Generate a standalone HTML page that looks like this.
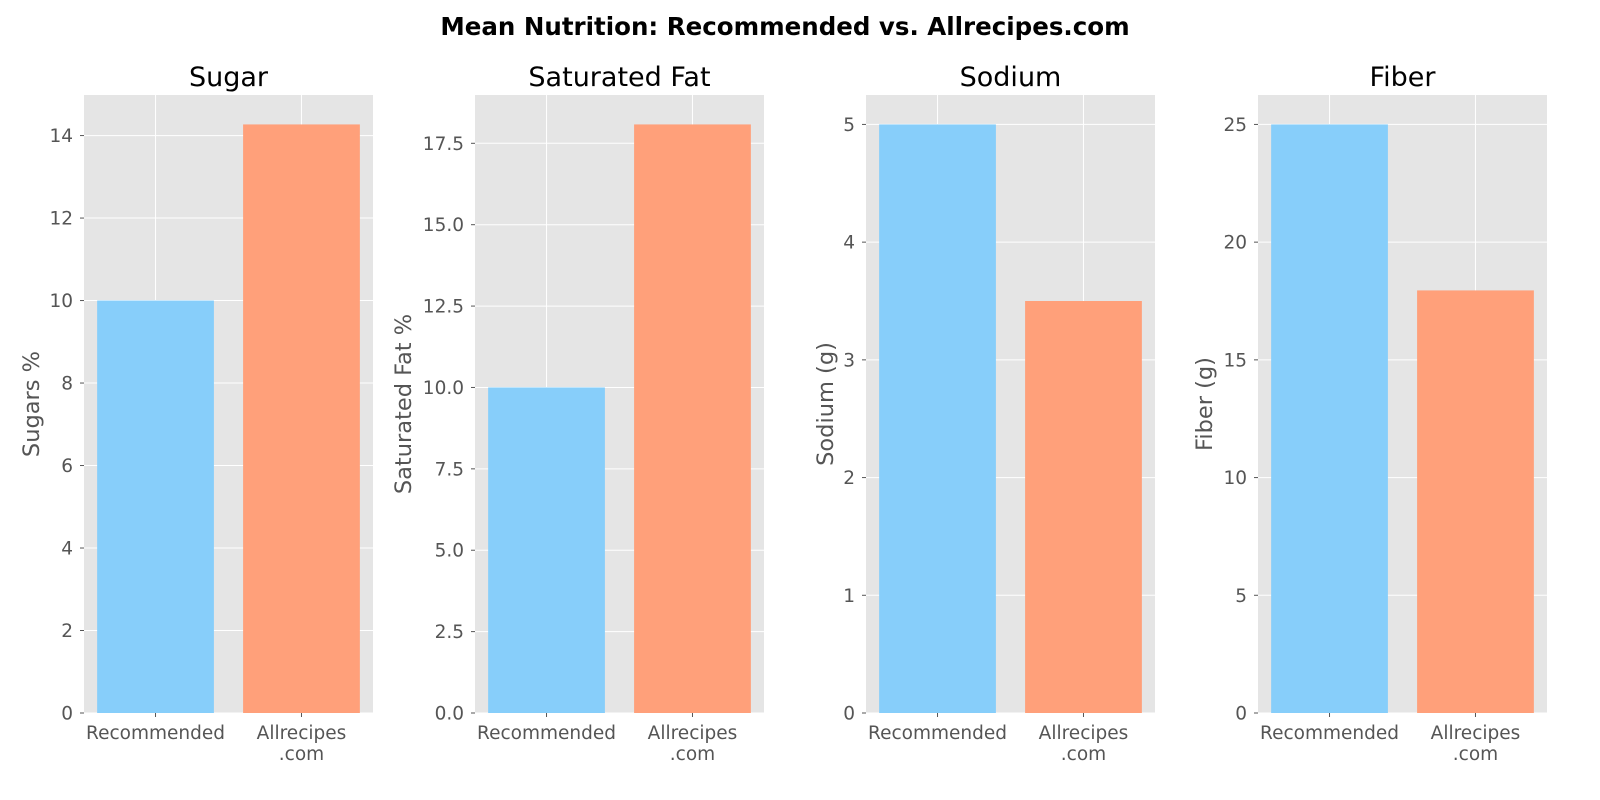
<!DOCTYPE html>
<html><head><meta charset="utf-8"><style>
body{margin:0;background:#fff;}
svg{display:block;font-family:"DejaVu Sans","Liberation Sans",sans-serif;}
</style></head><body>
<svg id="c" width="1600" height="800">
<text x="785" y="35" text-anchor="middle" font-size="24.5" font-weight="bold" fill="#000">Mean Nutrition: Recommended vs. Allrecipes.com</text>
</svg>
<script>
const categories = ["Recommended", "Allrecipes\n.com"];
const panelTitles = ["Sugar", "Saturated Fat", "Sodium", "Fiber"];
const yLabels = ["Sugars %", "Saturated Fat %", "Sodium (g)", "Fiber (g)"];
const recommendedValues = [10, 10, 5, 25];
const allrecipesValues = [14.27, 18.08, 3.5, 17.95];
const tickSets = [
  [0,2,4,6,8,10,12,14],
  [0,2.5,5,7.5,10,12.5,15,17.5],
  [0,1,2,3,4,5],
  [0,5,10,15,20,25]
];
const tickFmt = [0,1,0,0];
const colors = ["#87cefa", "#ffa07a"];
const NS = "http://www.w3.org/2000/svg";
const svgEl = document.getElementById('c');
function mk(tag, attrs, parent){ const e=document.createElementNS(NS,tag); for(const k in attrs) e.setAttribute(k,attrs[k]); (parent||svgEl).appendChild(e); return e; }
const lefts = [84, 475, 866, 1258];
const labelOffsets = [45, 64, 33, 46];
const W = 289, yTop = 95, yBottom = 713;
panelTitles.forEach((t, p) => {
  const g = mk('g', {});
  
  
  const L = lefts[p];
  const vals = [recommendedValues[p], allrecipesValues[p]];
  const ymax = Math.max(...vals) * 1.05;
  const y = v => yBottom - v / ymax * (yBottom - yTop);
  const xs = v => L + (v + 0.49) / 1.98 * W;
  const bg = mk('rect', {x:L, y:yTop, width:W, height:yBottom-yTop, fill:'#e5e5e5'}, g);
  
  
  tickSets[p].forEach(tv => {
    const yy = y(tv);
    mk('line', {x1:L, x2:L+W, y1:yy, y2:yy, stroke:'#fff', 'stroke-width':1}, g);
    mk('line', {x1:L-4, x2:L, y1:yy, y2:yy, stroke:'#555', 'stroke-width':1}, g);
    const tx = mk('text', {x:L-11, y:yy+6.5, 'text-anchor':'end', 'font-size':18.5, fill:'#555'}, g);
    tx.textContent = tv.toFixed(tickFmt[p]);
    
    
  });
  categories.forEach((c, i) => {
    const cx = xs(i);
    mk('line', {x1:cx, x2:cx, y1:yTop, y2:yBottom, stroke:'#fff', 'stroke-width':1}, g);
  });
  vals.forEach((v, i) => {
    const bw = 0.8 / 1.98 * W;
    const r = mk('rect', {x:xs(i)-bw/2, y:y(v), width:bw, height:yBottom-y(v), fill:colors[i]}, g);
    
    
  });
  categories.forEach((c, i) => {
    const cx = xs(i);
    mk('line', {x1:cx, x2:cx, y1:yBottom, y2:yBottom+4, stroke:'#555', 'stroke-width':1}, g);
    const lines = c.split('\n');
    lines.forEach((ln, k) => {
      const tx = mk('text', {x:cx, y:yBottom+26+k*21, 'text-anchor':'middle', 'font-size':18.5, fill:'#555'}, g);
      tx.textContent = ln;
      
      
    });
  });
  const tt = mk('text', {x:L+W/2, y:86, 'text-anchor':'middle', 'font-size':27, fill:'#000'}, g);
  tt.textContent = t;
  
  
  const yl = mk('text', {x:0, y:0, 'text-anchor':'middle', 'font-size':22.5, fill:'#555', transform:`translate(${L-labelOffsets[p]},${(yTop+yBottom)/2}) rotate(-90)`}, g);
  yl.textContent = yLabels[p];
  
  
});
</script>
</body></html>
